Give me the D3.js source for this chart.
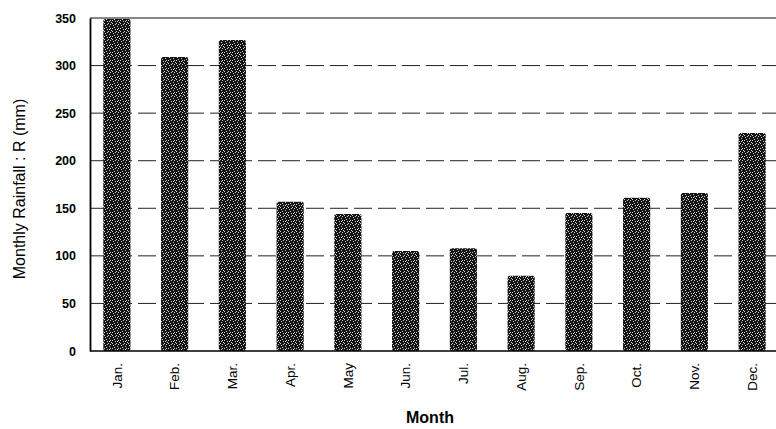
<!DOCTYPE html>
<html><head><meta charset="utf-8">
<script src="https://cdn.jsdelivr.net/npm/d3@7"></script>
<style>
html,body{margin:0;padding:0;background:#fff;}
svg{display:block;font-family:"Liberation Sans",Arial,sans-serif;}
</style></head>
<body>
<svg id="c" width="776" height="429"></svg>
<script>
const months = ["Jan.","Feb.","Mar.","Apr.","May","Jun.","Jul.","Aug.","Sep.","Oct.","Nov.","Dec."];
const rainfall = [349, 309, 327, 157, 144, 105, 108, 79, 145, 161, 166, 229];
const yTicks = [0, 50, 100, 150, 200, 250, 300, 350];

(function(){
const svg = d3.select("#c");
const pLeft = 90, pRight = 776, pTop = 18, pBottom = 351;

const x = d3.scaleBand().domain(months).range([88, 781]).paddingInner(0.53).paddingOuter(0.265);
const y = d3.scaleLinear().domain([0, 350]).range([pBottom, pTop]);

// speckle pattern (deterministic)
const defs = svg.append("defs");
const pat = defs.append("pattern").attr("id","speck").attr("patternUnits","userSpaceOnUse")
  .attr("width",8).attr("height",8);
pat.append("rect").attr("width",8).attr("height",8).attr("fill","#141414");
[[1,1],[5,2],[3,5],[7,6],[0,7],[6,0],[2,3],[4,7],[6,4],[0,4],[3,0],[5,5]].forEach(([a,b])=>{
  pat.append("rect").attr("x",a).attr("y",b).attr("width",1).attr("height",1).attr("fill","#d0d0d0");
});

// gridlines
svg.append("g").selectAll("line").data(yTicks.filter(d=>d>0 && d<350)).join("line")
  .attr("x1",pLeft).attr("x2",pRight).attr("y1",d=>y(d)).attr("y2",d=>y(d))
  .attr("stroke","#222").attr("stroke-width",1).attr("stroke-dasharray","18,6");
// top line
svg.append("line").attr("x1",pLeft).attr("x2",pRight).attr("y1",y(350)).attr("y2",y(350))
  .attr("stroke","#111").attr("stroke-width",1.2);

// bars
svg.append("g").selectAll("rect").data(rainfall).join("rect")
  .attr("x",(d,i)=>x(months[i])).attr("width",x.bandwidth())
  .attr("y",d=>y(d)).attr("height",d=>y(0)-y(d))
  .attr("fill","url(#speck)").attr("rx",2);

// y axis
const ya = svg.append("g").attr("transform",`translate(${pLeft},0)`)
  .call(d3.axisLeft(y).tickValues(yTicks).tickSize(0).tickPadding(14));
ya.select(".domain").attr("stroke","#000").attr("stroke-width",1.8);
ya.selectAll("text").attr("font-size",12.5).attr("font-weight","bold").attr("fill","#000");

// x axis
const xa = svg.append("g").attr("transform",`translate(0,${pBottom})`)
  .call(d3.axisBottom(x).tickSize(0));
xa.select(".domain").attr("stroke","#000").attr("stroke-width",1.4).attr("d",`M${pLeft},0H${pRight}`);
xa.selectAll("text").attr("font-size",13.5).attr("fill","#000")
  .attr("transform","rotate(-90)").attr("text-anchor","end")
  .attr("x",-12).attr("y",0).attr("dy","0.35em");

// titles
svg.append("text").attr("x",430).attr("y",423).attr("text-anchor","middle")
  .attr("font-size",16).attr("font-weight","bold").text("Month");
svg.append("text").attr("transform","translate(25,189) rotate(-90)").attr("text-anchor","middle")
  .attr("font-size",16).text("Monthly Rainfall : R (mm)");
})();
</script>
</body></html>
